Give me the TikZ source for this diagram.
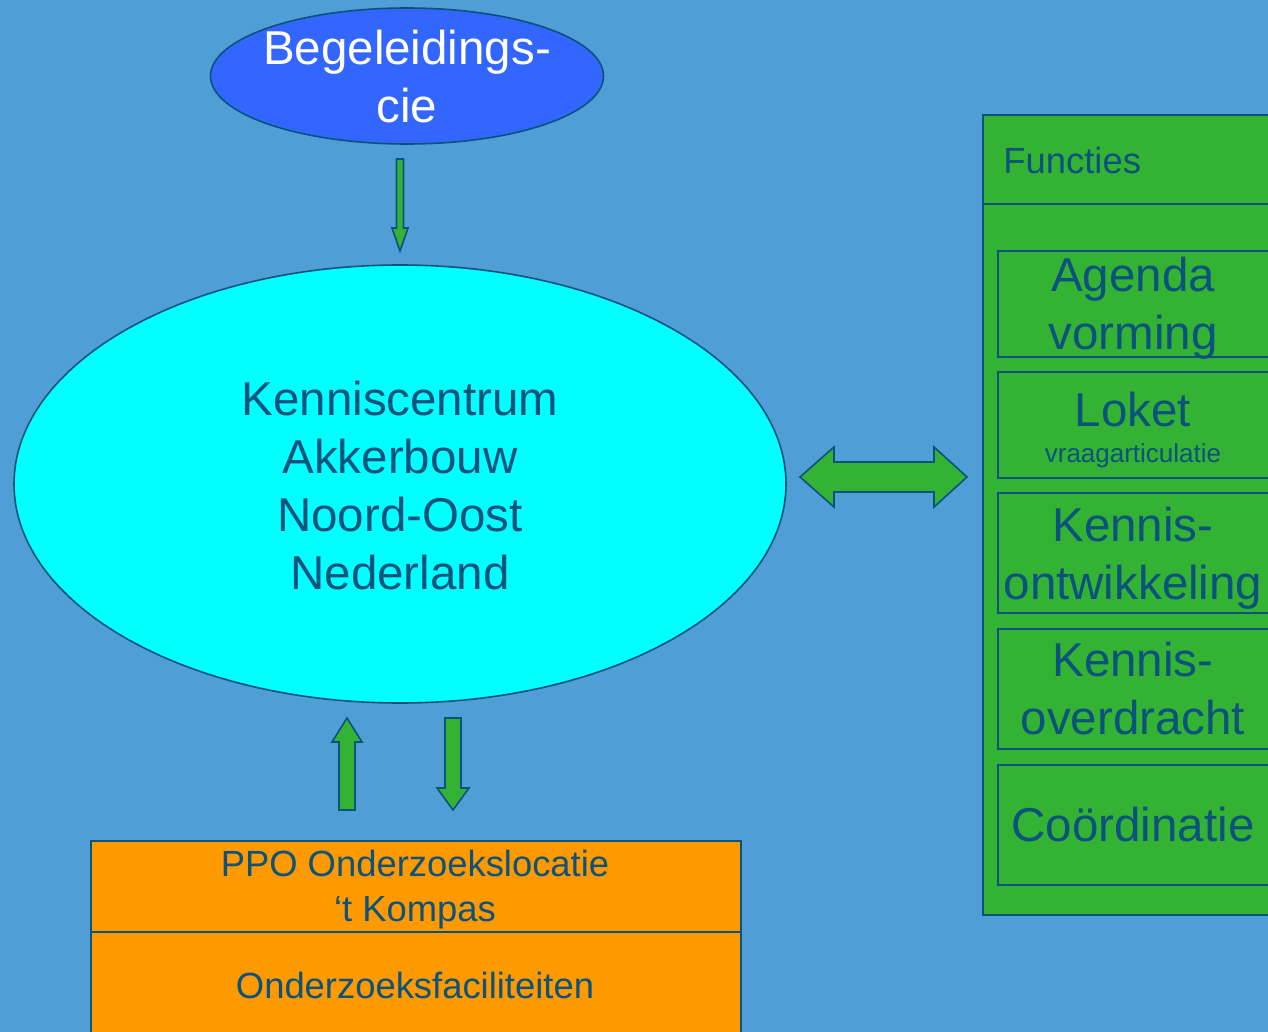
\documentclass[tikz,border=0pt]{standalone}
\usepackage{fontspec}
\setmainfont{Liberation Sans}
\usetikzlibrary{shapes.geometric}

\definecolor{bgblue}{RGB}{80,158,214}
\definecolor{inkblue}{RGB}{11,82,124}
\definecolor{cieblue}{RGB}{51,102,255}
\definecolor{kcacyan}{RGB}{0,255,255}
\definecolor{boxgreen}{RGB}{51,178,51}
\definecolor{ppoorange}{RGB}{255,153,0}

\tikzset{
  bigtext/.style={text=inkblue, align=center, inner sep=0pt, font=\fontsize{23.75}{29}\selectfont},
  midtext/.style={text=inkblue, align=center, inner sep=0pt, font=\fontsize{18.2}{22.5}\selectfont},
  smalltext/.style={text=inkblue, inner sep=0pt, font=\fontsize{13}{15}\selectfont},
  oval/.style={ellipse, draw=inkblue, line width=0.8pt, inner sep=0pt},
  panel/.style={rectangle, draw=inkblue, line width=0.8pt, inner sep=0pt, anchor=north west},
  blockarrow/.style={fill=boxgreen, draw=inkblue, line width=0.8pt, line join=miter}
}

\begin{document}
\begin{tikzpicture}[x=0.5pt,y=-0.5pt]
  \fill[bgblue] (0,0) rectangle (1268,1032);
  \clip (0,0) rectangle (1268,1032);

  % ellipses
  \node (cie) [oval, fill=cieblue, minimum width=196.5pt, minimum height=68pt] at (407,76) {};
  \node (cietext) [bigtext, text=white] at (407,77) {Begeleidings-\\cie};

  \node (kca) [oval, fill=kcacyan, minimum width=386pt, minimum height=219pt] at (400,484) {};
  \node (kcatext) [bigtext] at (400,486) {Kenniscentrum\\Akkerbouw\\Noord-Oost\\Nederland};

  % functies
  \node (functies) [panel, fill=boxgreen, minimum width=154pt, minimum height=400pt] at (982,114) {};
  \draw[inkblue, line width=0.8pt] (982,204) -- (1290,204);
  \node (functiestext) [midtext, anchor=west] at (1003,160) {Functies};

  \node (agenda)  [panel, minimum width=137pt, minimum height=53pt] at (997,250) {};
  \node (loket)   [panel, minimum width=137pt, minimum height=53pt] at (997,371) {};
  \node (ontw)    [panel, minimum width=137pt, minimum height=60pt] at (997,492) {};
  \node (overdr)  [panel, minimum width=137pt, minimum height=60pt] at (997,628) {};
  \node (coord)   [panel, minimum width=137pt, minimum height=60pt] at (997,764) {};

  \node (agendatext) [bigtext] at (1133,308) {Agenda\\vorming};
  \node (lokettext)  [bigtext] at (1133,410) {Loket};
  \node (loketsub)   [smalltext, anchor=base] at (1133,462) {vraagarticulatie};
  \node (ontwtext)   [bigtext] at (1133,558) {Kennis-\\ontwikkeling};
  \node (overdrtext) [bigtext] at (1133,689) {Kennis-\\overdracht};
  \node (coordtext)  [bigtext] at (1133,825) {Coördinatie};

  % PPO
  \node (ppo) [panel, fill=ppoorange, minimum width=325pt, minimum height=45.5pt] at (90,840) {};
  \node (fac) [panel, fill=ppoorange, minimum width=325pt, minimum height=60pt] at (90,931) {};
  \node (ppotext) [midtext] at (415,890) {PPO Onderzoekslocatie\\‘t Kompas};
  \node (factext) [midtext] at (415,985) {Onderzoeksfaciliteiten};

  % block arrows
  \filldraw[blockarrow] (396.5,159) -- (403.5,159) -- (403.5,228) -- (408,228) -- (400,251)
    -- (392,228) -- (396.5,228) -- cycle;
  \filldraw[blockarrow] (347,718) -- (362,742) -- (355,742) -- (355,810) -- (339,810)
    -- (339,742) -- (332,742) -- cycle;
  \filldraw[blockarrow] (445,718) -- (461,718) -- (461,788) -- (469,788) -- (453,810)
    -- (437,788) -- (445,788) -- cycle;
  \filldraw[blockarrow] (800,477) -- (834,447) -- (834,462) -- (934,462) -- (934,447)
    -- (967,477) -- (934,507) -- (934,492) -- (834,492) -- (834,507) -- cycle;
\end{tikzpicture}
\end{document}
